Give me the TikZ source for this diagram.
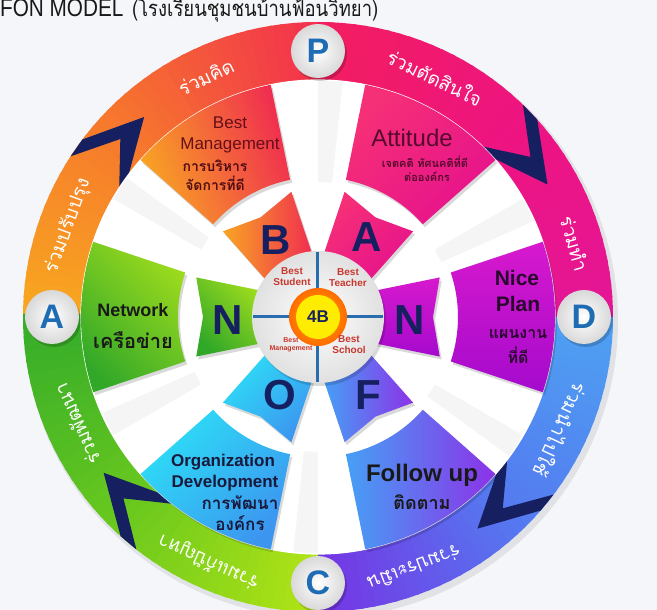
\documentclass[tikz,border=0pt]{standalone}
\usepackage{fontspec}
\setmainfont{Liberation Sans}
\newfontfamily\thaifont[Script=Thai]{Loma}
\definecolor{bg}{RGB}{245,246,250}
\definecolor{navy}{RGB}{22,32,96}
\definecolor{letblue}{RGB}{30,108,180}
\definecolor{crossblue}{RGB}{40,110,175}
\definecolor{lblred}{RGB}{200,55,45}
% ring colours
\definecolor{rP1}{RGB}{242,48,78}
\definecolor{rPA}{RGB}{246,118,45}
\definecolor{rA1}{RGB}{248,168,32}
\definecolor{rP2}{RGB}{242,30,95}
\definecolor{rPD}{RGB}{238,20,128}
\definecolor{rD1}{RGB}{228,22,150}
\definecolor{rD2}{RGB}{78,162,242}
\definecolor{rDC}{RGB}{84,122,240}
\definecolor{rC1}{RGB}{118,52,228}
\definecolor{rC2}{RGB}{178,228,22}
\definecolor{rCA}{RGB}{105,200,30}
\definecolor{rA2}{RGB}{52,172,42}
% boxes
\definecolor{bmA}{RGB}{248,165,35}
\definecolor{bmB}{RGB}{240,45,80}
\definecolor{atA}{RGB}{246,48,118}
\definecolor{atB}{RGB}{230,18,140}
\definecolor{npA}{RGB}{215,25,205}
\definecolor{npB}{RGB}{165,10,205}
\definecolor{fuA}{RGB}{70,160,245}
\definecolor{fuB}{RGB}{140,50,232}
\definecolor{odA}{RGB}{45,222,246}
\definecolor{odB}{RGB}{60,150,240}
\definecolor{nwA}{RGB}{155,218,30}
\definecolor{nwB}{RGB}{50,168,40}
\definecolor{dkred}{RGB}{100,15,25}
\definecolor{dkmag}{RGB}{85,10,45}
\definecolor{dkpur}{RGB}{40,8,45}
\definecolor{dknav}{RGB}{25,25,60}

\newcommand\ringseg[4]{%
  \foreach \k in {0,...,19}{%
    \pgfmathsetmacro\aa{#1+(#2-#1)*\k/20}%
    \pgfmathsetmacro\ab{#1+(#2-#1)*(\k+1.3)/20}%
    \pgfmathsetmacro\pp{100-100*(\k+0.5)/20}%
    \fill[fill={#3!\pp!#4}] (\aa:237) arc[start angle=\aa,end angle=\ab,radius=237pt]
      -- (\ab:295) arc[start angle=\ab,end angle=\aa,radius=295pt] -- cycle;
  }}
\newcommand\chev[1]{%
  \pgfmathsetmacro\ta{#1+12}\pgfmathsetmacro\tb{#1+16}\pgfmathsetmacro\tc{#1+7}%
  \fill[navy] (#1:265) -- (\ta:295) -- (\tb:295) -- (\tc:266) -- (\tb:237) -- (\ta:237) -- cycle;}

\tikzset{
  ringtxt/.style={text=white, font=\thaifont\fontsize{19}{21}\selectfont, inner sep=0},
  bigletter/.style={text=navy, font=\fontsize{42}{42}\selectfont\bfseries, inner sep=0},
  padc/.style={text=letblue, font=\fontsize{34}{34}\selectfont\bfseries, inner sep=0},
  ctrlbl/.style={text=lblred, font=\fontsize{10}{11}\selectfont\bfseries, align=center, inner sep=0},
  boxtxt/.style={align=center, inner sep=0},
}

\begin{document}
\begin{tikzpicture}[x=1pt,y=1pt]
\useasboundingbox (-318,-293) rectangle (339,317);
\fill[bg] (-318,-293) rectangle (339,317);

% title (cut at top)
\node[anchor=base west, inner sep=0, text=black!90, xscale=0.83] (title) at (-318,300)
  {\fontsize{25}{28}\selectfont FON MODEL};
\node[anchor=base west, inner sep=0, text=black!90, xscale=0.84] (titlethai) at (-186,300)
  {\thaifont\fontsize{22}{26}\selectfont (โรงเรียนชุมชนบ้านฟ้อนวิทยา)};

% ring shadow + ring
\fill[black,opacity=0.08] (3,-4) circle[radius=297pt];
\ringseg{90}{135}{rP1}{rPA}
\ringseg{135}{180}{rPA}{rA1}
\ringseg{90}{45}{rP2}{rPD}
\ringseg{45}{0}{rPD}{rD1}
\ringseg{0}{-45}{rD2}{rDC}
\ringseg{-45}{-90}{rDC}{rC1}
\ringseg{-90}{-135}{rC2}{rCA}
\ringseg{-135}{-180}{rCA}{rA2}

% chevrons
\chev{131}
\chev{30}
\chev{-53}
\chev{216}

% inner white disk
\fill[white] (0,0) circle[radius=237pt];
\draw[white, line width=1.2pt] (0,0) circle[radius=237pt];

% gap shading strips
\foreach \g in {30,90,150,210,270,330}{
  \pgfmathsetmacro\ga{\g-6}
  \fill[black!4] (\ga:135) -- (\ga:236) arc[start angle=\ga,end angle=\g,radius=236pt] -- (\g:135) -- cycle;
}

% outer boxes
\foreach \cc/\ca/\cb/\sa in {120/bmA/bmB/110, 60/atA/atB/45, 0/npA/npB/0, -60/fuA/fuB/90, -120/odA/odB/45, 180/nwA/nwB/-45}{
  \pgfmathsetmacro\lo{\cc-18.5}\pgfmathsetmacro\hi{\cc+18.5}
  \fill[black,opacity=0.15,shift={(2,-3)}] (\lo:140) -- (\lo:237) arc[start angle=\lo,end angle=\hi,radius=237pt]
     -- (\hi:140) arc[start angle=\hi,end angle=\lo,radius=140pt] -- cycle;
  \shade[top color=\ca, bottom color=\cb, shading angle=\sa] (\lo:140) -- (\lo:237) arc[start angle=\lo,end angle=\hi,radius=237pt]
     -- (\hi:140) arc[start angle=\hi,end angle=\lo,radius=140pt] -- cycle;
}

% inner wedges
\foreach \cc/\ca/\cb/\sa in {120/bmA/bmB/90, 60/atA/atB/45, 0/npA/npB/0, -60/fuA/fuB/90, -120/odA/odB/45, 180/nwA/nwB/-45}{
  \pgfmathsetmacro\lo{\cc-18}\pgfmathsetmacro\hi{\cc+18}
  \pgfmathsetmacro\llo{\cc-25}\pgfmathsetmacro\hhi{\cc+25}
  \fill[black,opacity=0.15,shift={(2,-3)}] (\llo:62) -- (\lo:128) -- (\cc:115) -- (\hi:128) -- (\hhi:62) -- cycle;
  \shade[top color=\ca, bottom color=\cb, shading angle=\sa] (\llo:62) -- (\lo:128) -- (\cc:115) -- (\hi:128) -- (\hhi:62) -- cycle;
}

% central circle
\fill[black,opacity=0.15] (2,-3) circle[radius=66pt];
\shade[inner color=white, outer color=black!12] (0,0) circle[radius=66pt];
\draw[crossblue, line width=3pt] (0,28) -- (0,65) (0,-28) -- (0,-65) (28,0) -- (65,0) (-28,0) -- (-65,0);
\shade[inner color=orange!70!yellow, outer color=orange!85!red] (0,0) circle[radius=29pt];
\fill[yellow!95!orange] (0,0) circle[radius=22pt];
\node[text=navy, font=\fontsize{17}{17}\selectfont\bfseries, inner sep=0] (fourb) at (0,0) {4B};
\node[ctrlbl] (bstudent) at (-26,40) {Best\\Student};
\node[ctrlbl] (bteacher) at (30,39) {Best\\Teacher};
\node[ctrlbl, font=\fontsize{7}{8}\selectfont\bfseries] (bmanage) at (-27,-28) {Best\\Management};
\node[ctrlbl] (bschool) at (31,-28) {Best\\School};

% big letters
\node[bigletter] (lB) at (-42,77) {B};
\node[bigletter] (lA) at (49,80) {A};
\node[bigletter] (lNr) at (92,-3) {N};
\node[bigletter] (lNl) at (-90,-3) {N};
\node[bigletter] (lO) at (-38,-78) {O};
\node[bigletter] (lF) at (50,-78) {F};

% box texts
\node[boxtxt, text=dkred, font=\fontsize{17}{20}\selectfont] (bm1) at (-88,194) {Best};
\node[boxtxt, text=dkred, font=\fontsize{17}{20}\selectfont] (bm2) at (-88,172) {Management};
\node[boxtxt, text=dkred!80!black, font=\thaifont\bfseries\fontsize{14}{16}\selectfont] (bm3) at (-103,151) {การบริหาร};
\node[boxtxt, text=dkred!80!black, font=\thaifont\bfseries\fontsize{14}{16}\selectfont] (bm4) at (-103,134) {จัดการที่ดี};
\node[boxtxt, text=dkmag, font=\fontsize{24}{26}\selectfont] (at1) at (94,179) {Attitude};
\node[boxtxt, text=dkmag, font=\thaifont\bfseries\fontsize{11}{14}\selectfont] (at2) at (107,155) {เจตคติ ทัศนคติที่ดี};
\node[boxtxt, text=dkmag, font=\thaifont\bfseries\fontsize{11}{14}\selectfont] (at3) at (109,140) {ต่อองค์กร};
\node[boxtxt, text=dkpur, font=\fontsize{21}{24}\selectfont\bfseries] (np1) at (199,39) {Nice};
\node[boxtxt, text=dkpur, font=\fontsize{21}{24}\selectfont\bfseries] (np2) at (200,13) {Plan};
\node[boxtxt, text=dkpur, font=\thaifont\bfseries\fontsize{16}{18}\selectfont] (np3) at (200,-17) {แผนงาน};
\node[boxtxt, text=dkpur, font=\thaifont\bfseries\fontsize{16}{18}\selectfont] (np4) at (200,-38) {ที่ดี};
\node[boxtxt, text=black!90, font=\fontsize{24}{26}\selectfont\bfseries] (fu1) at (104,-158) {Follow up};
\node[boxtxt, text=black!90, font=\thaifont\bfseries\fontsize{18}{20}\selectfont] (fu2) at (104,-185) {ติดตาม};
\node[boxtxt, text=dknav, font=\fontsize{17}{20}\selectfont\bfseries] (od1) at (-95,-145) {Organization};
\node[boxtxt, text=dknav, font=\fontsize{17}{20}\selectfont\bfseries] (od2) at (-93,-166) {Development};
\node[boxtxt, text=dknav, font=\thaifont\bfseries\fontsize{17}{19}\selectfont] (od3) at (-78,-186) {การพัฒนา};
\node[boxtxt, text=dknav, font=\thaifont\bfseries\fontsize{17}{19}\selectfont] (od4) at (-78,-206) {องค์กร};
\node[boxtxt, text=black!90, font=\fontsize{18}{20}\selectfont\bfseries] (nw1) at (-185,7) {Network};
\node[boxtxt, text=black!90, font=\thaifont\bfseries\fontsize{20}{22}\selectfont] (nw2) at (-185,-23) {เครือข่าย};

% ring texts
\node[ringtxt, rotate=25] (r1) at (115:265) {ร่วมคิด};
\node[ringtxt, rotate=70] (r2) at (160:266) {ร่วมปรับปรุง};
\node[ringtxt, rotate=-26] (r3) at (64:267) {ร่วมตัดสินใจ};
\node[ringtxt, rotate=-74] (r4) at (16:267) {ร่วมทำ};
\node[ringtxt, rotate=-115] (r5) at (-25:268) {ร่วมนำไปใช้};
\node[ringtxt, rotate=-159] (r6) at (-69:269) {ร่วมประเมิน};
\node[ringtxt, rotate=156] (r7) at (-114:268) {ร่วมแก้ปัญหา};
\node[ringtxt, rotate=114] (r8) at (204:264) {ร่วมพัฒนา};

% P A D C circles
\foreach \ang/\lt/\nm in {90/P/cP, 180/A/cA, 0/D/cD, 270/C/cC}{
  \fill[black,opacity=0.18] (\ang:266) ++(2,-3) circle[radius=27pt];
  \shade[inner color=white, outer color=black!15] (\ang:266) circle[radius=27pt];
  \node[padc] (\nm) at (\ang:266) {\lt};
}
\end{tikzpicture}
\end{document}
